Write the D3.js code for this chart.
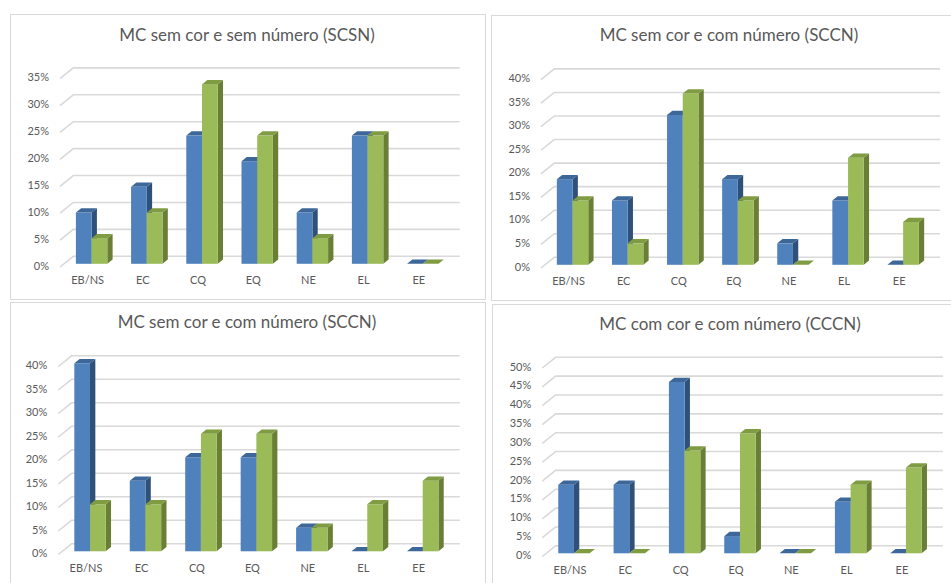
<!DOCTYPE html>
<html>
<head>
<meta charset="utf-8">
<script src="https://cdn.jsdelivr.net/npm/d3@7"></script>
<style>
  body { margin: 0; background: #fff; }
  svg { display: block; }
  text { font-family: Lato, "Open Sans", sans-serif; fill: #595959; }
</style>
</head>
<body>
<svg id="chart" width="951" height="583"></svg>
<script>
// categories shared by the four charts
const categories = ["EB/NS", "EC", "CQ", "EQ", "NE", "EL", "EE"];

// values in %
const scsnBlue  = [9.52, 14.29, 23.81, 19.05, 9.52, 23.81, 0];
const scsnGreen = [4.76, 9.52, 33.33, 23.81, 4.76, 23.81, 0];

const sccnBlue  = [18.18, 13.64, 31.82, 18.18, 4.55, 13.64, 0];
const sccnGreen = [13.64, 4.55, 36.36, 13.64, 0, 22.73, 9.09];

const sccn2Blue  = [40, 15, 20, 20, 5, 0, 0];
const sccn2Green = [10, 10, 25, 25, 5, 10, 15];

const cccnBlue  = [18.18, 18.18, 45.45, 4.55, 0, 13.64, 0];
const cccnGreen = [0, 0, 27.27, 31.82, 0, 18.18, 22.73];

const titles = [
  "MC sem cor e sem número (SCSN)",
  "MC sem cor e com número (SCCN)",
  "MC sem cor e com número (SCCN)",
  "MC com cor e com número (CCCN)"
];
const axisMax = [35, 40, 40, 50];

// layout of each panel (box, plot front plane)
let panels = [
  { box: [10, 14, 475, 285], title: [247, 37], x0: 60,  step: 55.2, y0: 267, yTop: 78.6, blue: scsnBlue,  green: scsnGreen },
  { box: [491, 15, 470, 285], title: [729, 37], x0: 541, step: 55.1, y0: 268, yTop: 79.6, blue: sccnBlue,  green: sccnGreen },
  { box: [10, 302, 475, 290], title: [247, 324], x0: 58.3, step: 55.45, y0: 554.5, yTop: 366.5, blue: sccn2Blue, green: sccn2Green },
  { box: [492, 304, 470, 290], title: [730, 325.5], x0: 542.3, step: 55.33, y0: 556.5, yTop: 368, blue: cccnBlue, green: cccnGreen }
]

let depth = { dx: 13.3, dy: -10.7 }
let barW = 15.7

let colors = {
  blue:  { front: "#4f81bd", top: "#3d6699", side: "#2f5079" },
  green: { front: "#9bbb59", top: "#7f9c42", side: "#687f35" }
}

let svg = d3.select("#chart")

panels.forEach(function (p, k) {
  let g = svg.append("g").attr("class", "panel")

  g.append("rect")
    .attr("x", p.box[0] + 0.5)
    .attr("y", p.box[1] + 0.5)
    .attr("width", p.box[2])
    .attr("height", p.box[3])
    .style("fill", "#fff")
    .style("stroke", "#d9d9d9")
    .style("stroke-width", 1)

  g.append("text")
    .attr("x", p.title[0])
    .attr("y", p.title[1])
    .attr("text-anchor", "middle")
    .attr("dominant-baseline", "middle")
    .style("font-size", "17px")
    .text(titles[k])

  let x = d3.scaleBand()
    .domain(categories)
    .range([p.x0, p.x0 + categories.length * p.step])
    .padding(0)

  let y = d3.scaleLinear()
    .domain([0, axisMax[k]])
    .range([p.y0, p.yTop])

  let ticks = d3.range(0, axisMax[k] + 0.1, 5)

  // back wall gridlines and the diagonal floor/side lines
  let grid = g.append("g").attr("class", "grid")
    .style("stroke", "#d9d9d9")
    .style("stroke-width", 1.6)
    .style("fill", "none")

  grid.selectAll("path")
    .data(ticks)
    .join("path")
    .attr("d", function (v) {
      let xs = p.x0, xe = x.range()[1]
      return "M" + xs + "," + y(v) +
        "L" + (xs + depth.dx) + "," + (y(v) + depth.dy) +
        "L" + (xe + depth.dx) + "," + (y(v) + depth.dy)
    })

  // y axis labels
  let yAxis = d3.axisLeft(y)
    .tickValues(ticks)
    .tickSize(0)
    .tickPadding(11)
    .tickFormat(d => d + "%")

  g.append("g")
    .attr("class", "y axis")
    .attr("transform", `translate(${p.x0},-1.5)`)
    .call(yAxis)
    .call(a => a.select(".domain").remove())
    .selectAll("text")
    .style("font-family", "Lato, sans-serif")
    .style("font-size", "11px")
    .style("fill", "#595959")

  // category labels
  let xAxis = d3.axisBottom(x)
    .tickSize(0)
    .tickPadding(9.5)

  g.append("g")
    .attr("class", "x axis")
    .attr("transform", `translate(0,${p.y0})`)
    .call(xAxis)
    .call(a => a.select(".domain").remove())
    .selectAll("text")
    .style("font-family", "Lato, sans-serif")
    .style("font-size", "11px")
    .style("fill", "#595959")

  // 3d columns: front face at 30% of floor depth, 40% deep
  let fx = depth.dx * 0.3, fy = depth.dy * 0.3
  let bx = depth.dx * 0.4, by = depth.dy * 0.4

  let bars = []
  categories.forEach(function (c, i) {
    bars.push({ cat: c, j: 0, series: "blue", value: p.blue[i] })
    bars.push({ cat: c, j: 1, series: "green", value: p.green[i] })
  })

  let barG = g.append("g").attr("class", "bars")
    .selectAll("g")
    .data(bars)
    .join("g")

  function left(d) { return x(d.cat) + x.bandwidth() / 2 - barW + d.j * barW + fx }
  function top(d) { return y(d.value) + fy }
  function bottom(d) { return y(0) + fy }

  // side face
  barG.append("path")
    .attr("d", function (d) {
      let r = left(d) + barW
      return "M" + r + "," + bottom(d) + "L" + r + "," + top(d) +
        "L" + (r + bx) + "," + (top(d) + by) + "L" + (r + bx) + "," + (bottom(d) + by) + "Z"
    })
    .style("fill", d => colors[d.series].side)

  // front face
  barG.append("rect")
    .attr("x", d => left(d))
    .attr("y", d => top(d))
    .attr("width", barW)
    .attr("height", d => bottom(d) - top(d))
    .style("fill", d => colors[d.series].front)

  // top face
  barG.append("path")
    .attr("d", function (d) {
      let l = left(d), t = top(d)
      return "M" + l + "," + t + "L" + (l + barW) + "," + t +
        "L" + (l + barW + bx) + "," + (t + by) + "L" + (l + bx) + "," + (t + by) + "Z"
    })
    .style("fill", d => colors[d.series].top)
})
</script>
</body>
</html>
